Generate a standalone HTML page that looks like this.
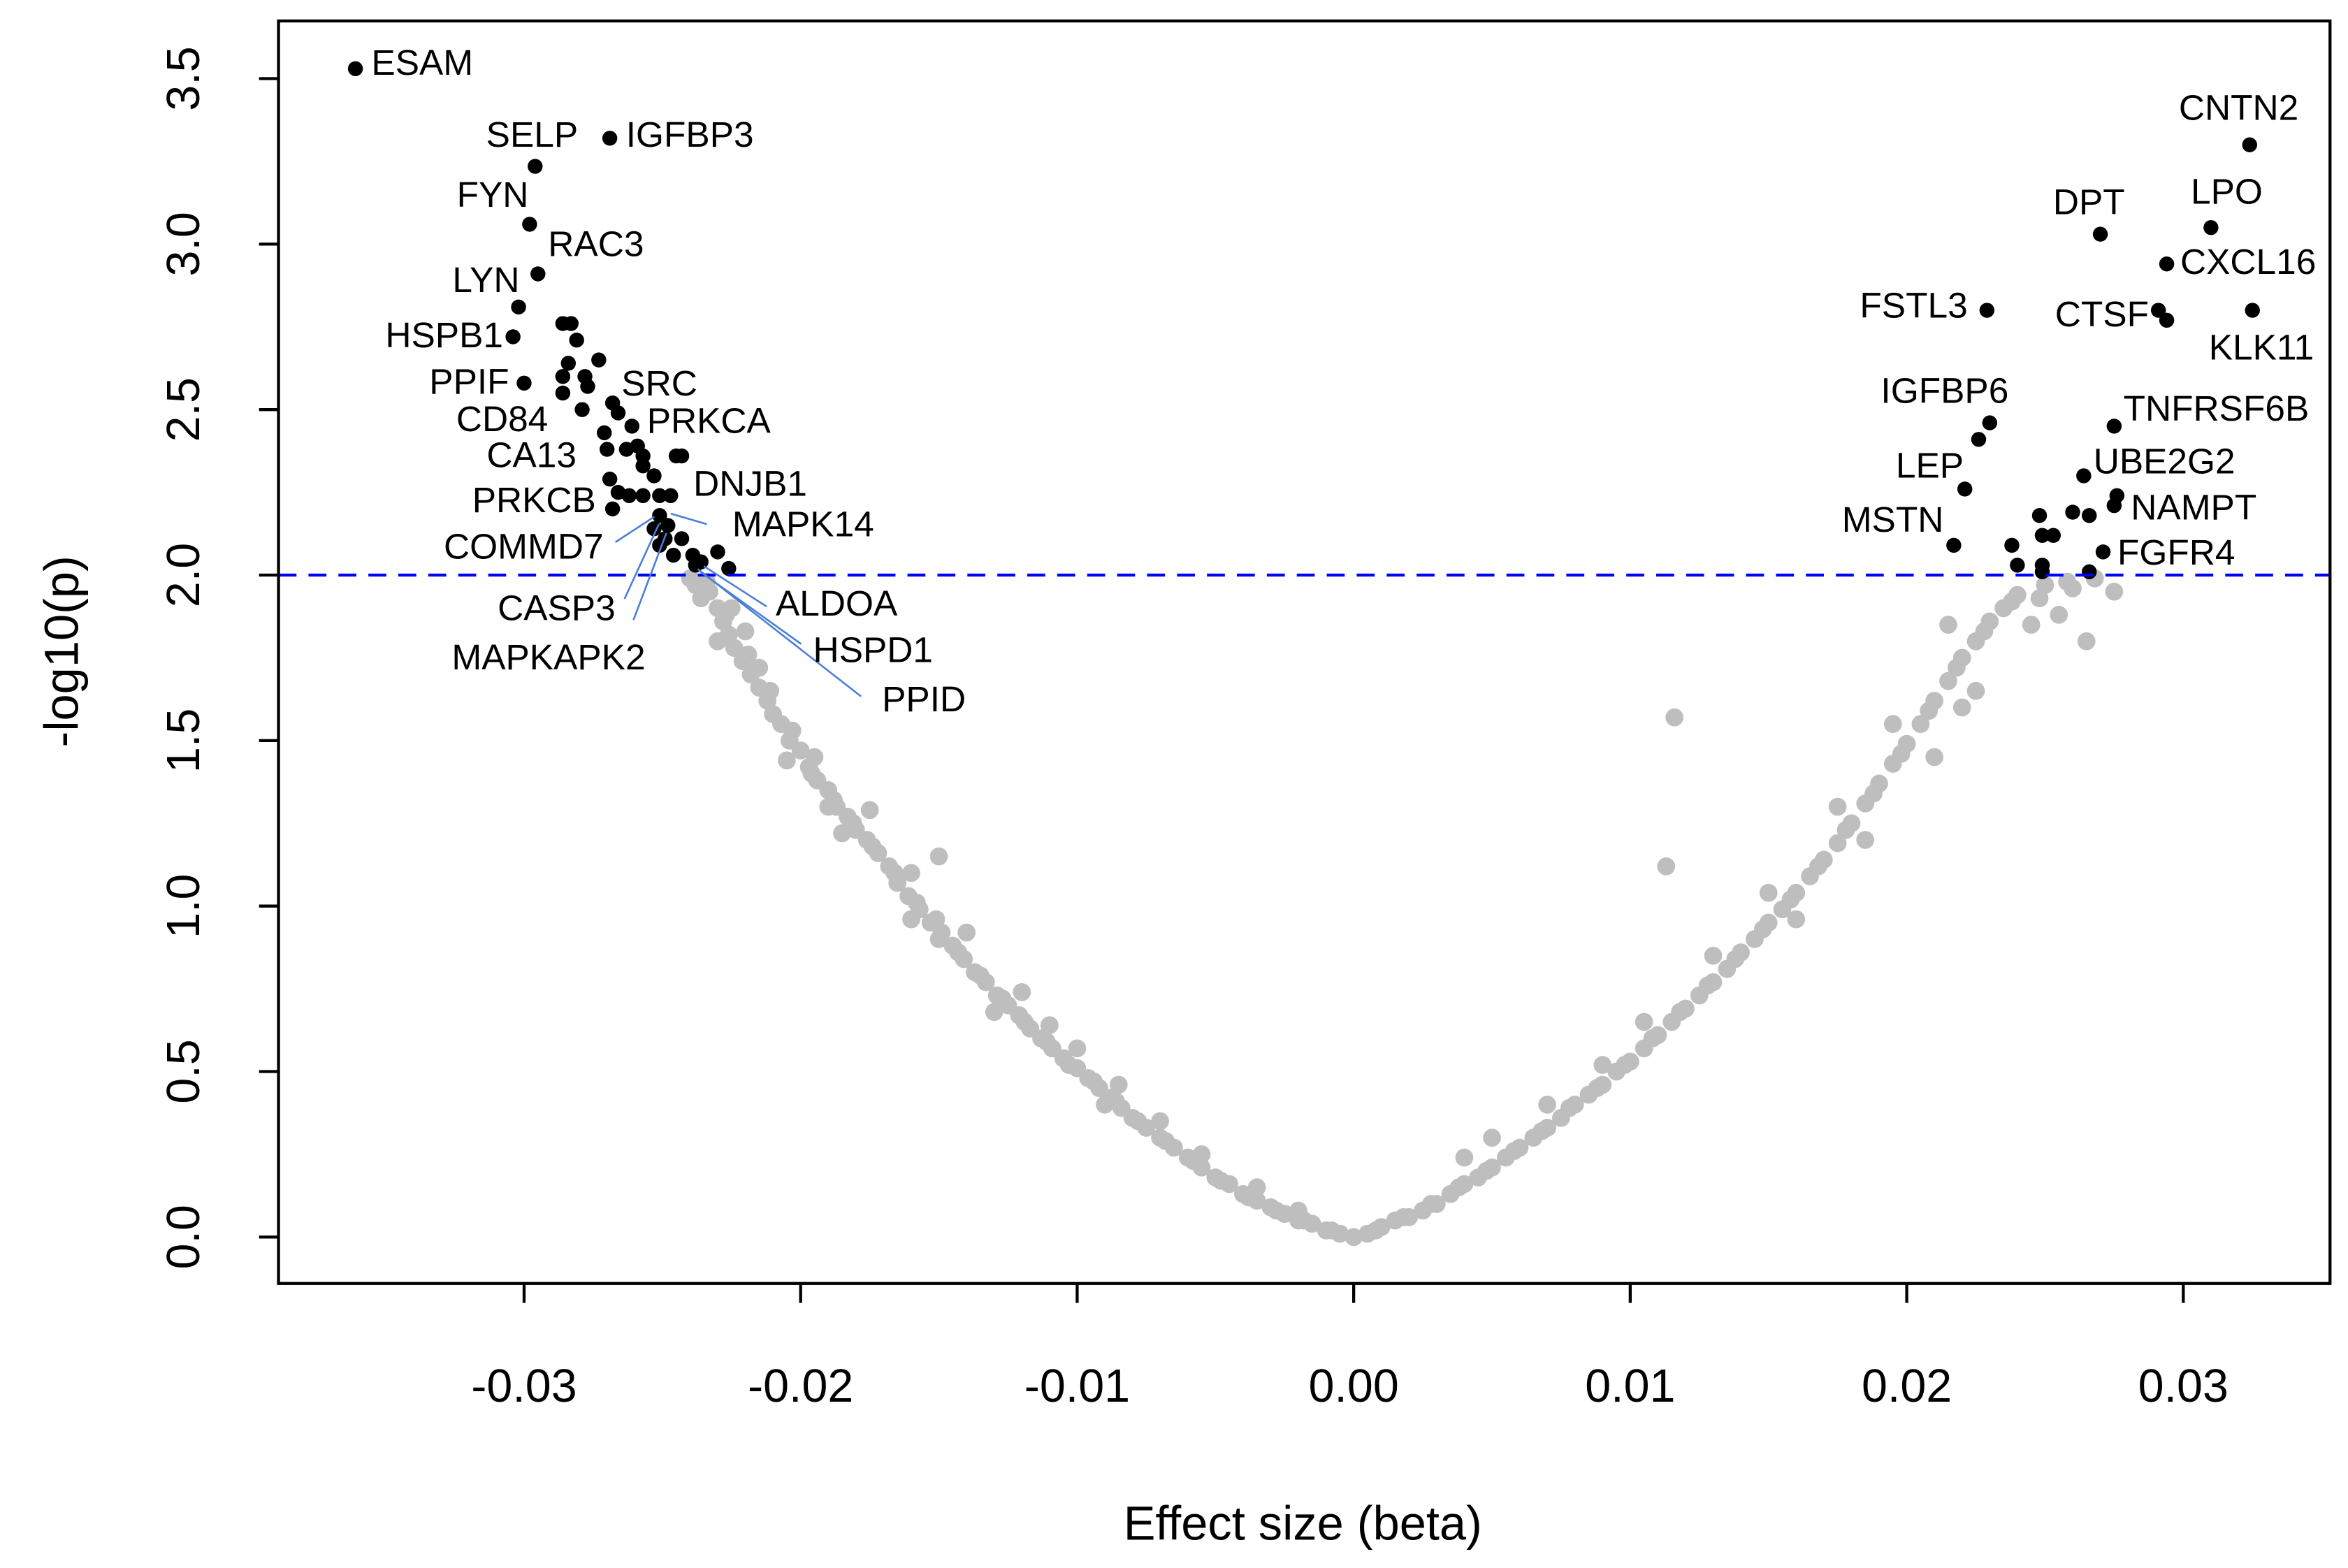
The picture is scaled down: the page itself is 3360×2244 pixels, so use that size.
<!DOCTYPE html>
<html><head><meta charset="utf-8"><style>
html,body{margin:0;padding:0;background:#fff;width:3360px;height:2244px;overflow:hidden}
svg{display:block}
text{font-family:"Liberation Sans",Arial,sans-serif}
</style></head><body>
<svg id="chart" width="3360" height="2244" viewBox="0 0 1568 1047" preserveAspectRatio="none" xmlns="http://www.w3.org/2000/svg">
<g id="grey"></g>
<g id="black"></g>
<line id="thr" x1="186" x2="1556" stroke="#0000ff" stroke-width="2" stroke-dasharray="12,8"/>
<rect x="186" y="14" width="1370" height="843" fill="none" stroke="#000" stroke-width="2"/>
<g id="axes"></g>
<g stroke="#4a7ed8" stroke-width="1.2">
<line x1="411" y1="362" x2="437" y2="345"/>
<line x1="417" y1="400" x2="440" y2="350"/>
<line x1="423" y1="414" x2="445" y2="356"/>
<line x1="472" y1="350" x2="448" y2="343"/>
<line x1="512" y1="405" x2="470" y2="378"/>
<line x1="535" y1="430" x2="468" y2="382"/>
<line x1="575" y1="465" x2="466" y2="380"/>
</g>
<g font-size="24" fill="#000">
<text x="248" y="50">ESAM</text>
<text x="386" y="98" text-anchor="end">SELP</text>
<text x="418" y="98">IGFBP3</text>
<text x="353" y="138" text-anchor="end">FYN</text>
<text x="366" y="171">RAC3</text>
<text x="347" y="195" text-anchor="end">LYN</text>
<text x="336" y="232" text-anchor="end">HSPB1</text>
<text x="340" y="263" text-anchor="end">PPIF</text>
<text x="415" y="264">SRC</text>
<text x="366" y="288" text-anchor="end">CD84</text>
<text x="432" y="289">PRKCA</text>
<text x="385" y="312" text-anchor="end">CA13</text>
<text x="463" y="331">DNJB1</text>
<text x="398" y="342" text-anchor="end">PRKCB</text>
<text x="489" y="358">MAPK14</text>
<text x="403" y="373" text-anchor="end">COMMD7</text>
<text x="518" y="411">ALDOA</text>
<text x="411" y="414" text-anchor="end">CASP3</text>
<text x="543" y="442">HSPD1</text>
<text x="431" y="447" text-anchor="end">MAPKAPK2</text>
<text x="589" y="475">PPID</text>
<text x="1455" y="80">CNTN2</text>
<text x="1371" y="143">DPT</text>
<text x="1463" y="136">LPO</text>
<text x="1456" y="183">CXCL16</text>
<text x="1314" y="212" text-anchor="end">FSTL3</text>
<text x="1435" y="218" text-anchor="end">CTSF</text>
<text x="1475" y="240">KLK11</text>
<text x="1256" y="269">IGFBP6</text>
<text x="1418" y="281">TNFRSF6B</text>
<text x="1266" y="319">LEP</text>
<text x="1398" y="316">UBE2G2</text>
<text x="1230" y="355">MSTN</text>
<text x="1423" y="347">NAMPT</text>
<text x="1414" y="377">FGFR4</text>
</g>
<text x="870" y="1028" font-size="32" text-anchor="middle">Effect size (beta)</text>
<text transform="translate(52,435) rotate(-90)" font-size="32" text-anchor="middle">-log10(p)</text>
</svg>
<script>
const greyBeta = [-0.0238,-0.0236,-0.0233,-0.0230,-0.0228,-0.0226,-0.0224,-0.0221,-0.0218,-0.0215,-0.0212,-0.0210,-0.0207,-0.0204,-0.0200,-0.0197,-0.0194,-0.0190,-0.0187,-0.0183,-0.0180,-0.0176,-0.0172,-0.0168,-0.0165,-0.0161,-0.0157,-0.0153,-0.0149,-0.0145,-0.0141,-0.0137,-0.0133,-0.0129,-0.0125,-0.0121,-0.0117,-0.0113,-0.0109,-0.0105,-0.0100,-0.0096,-0.0092,-0.0088,-0.0084,-0.0080,-0.0075,-0.0070,-0.0065,-0.0060,-0.0055,-0.0050,-0.0045,-0.0040,-0.0035,-0.0030,-0.0025,-0.0020,-0.0015,-0.0010,-0.0005,0,
-0.0230,-0.0220,-0.0215,-0.0205,-0.0195,-0.0185,-0.0175,-0.0160,-0.0150,-0.0150,-0.0140,-0.0130,-0.0120,-0.0110,-0.0100,-0.0090,-0.0085,-0.0070,-0.0055,-0.0035,-0.0020,-0.0160,-0.0190,-0.0240,-0.0225,
-0.0234,-0.0227,-0.0219,-0.0211,-0.0203,-0.0196,-0.0188,-0.0181,-0.0174,-0.0166,-0.0158,-0.0151,-0.0143,-0.0135,-0.0127,-0.0119,-0.0111,-0.0103,-0.0094,-0.0086,-0.0078,-0.0068,-0.0058,-0.0048,-0.0038,-0.0028,-0.0018,-0.0008,
0.0005,0.0010,0.0015,0.0020,0.0025,0.0030,0.0035,0.0040,0.0045,0.0050,0.0055,0.0060,0.0065,0.0070,0.0075,0.0080,0.0085,0.0090,0.0095,0.0100,0.0105,0.0110,0.0115,0.0120,0.0125,0.0130,0.0135,0.0140,0.0145,0.0150,0.0155,0.0160,0.0165,0.0170,0.0175,0.0180,0.0185,0.0190,0.0195,0.0200,0.0205,0.0210,0.0215,0.0220,0.0225,0.0230,0.0235,0.0240,0.0250,0.0260,0.0268,
0.0116,0.0113,0.0090,0.0105,0.0130,0.0150,0.0160,0.0175,0.0185,0.0195,0.0210,0.0225,0.0245,0.0255,0.0265,0.0275,0.0070,0.0050,0.0040,0.0215,0.0220,
0.0008,0.0018,0.0028,0.0038,0.0048,0.0058,0.0068,0.0078,0.0088,0.0098,0.0108,0.0118,0.0128,0.0138,0.0148,0.0158,0.0168,0.0178,0.0188,0.0198,0.0208,0.0218,0.0228,0.0238,0.0248,0.0258];
const greyP = [1.97,1.93,1.95,1.90,1.86,1.82,1.78,1.74,1.70,1.66,1.62,1.58,1.55,1.50,1.47,1.42,1.38,1.35,1.30,1.27,1.23,1.20,1.16,1.12,1.07,1.03,0.99,0.95,0.92,0.88,0.84,0.80,0.77,0.73,0.70,0.67,0.63,0.60,0.57,0.54,0.51,0.48,0.45,0.42,0.39,0.36,0.33,0.30,0.27,0.24,0.21,0.18,0.16,0.13,0.11,0.09,0.07,0.05,0.04,0.02,0.01,0.0,
1.80,1.83,1.72,1.44,1.45,1.22,1.29,1.10,1.15,0.90,0.92,0.68,0.74,0.64,0.57,0.40,0.46,0.35,0.25,0.15,0.08,0.96,1.30,1.99,1.90,
1.98,1.88,1.76,1.65,1.53,1.40,1.32,1.25,1.18,1.10,1.01,0.96,0.86,0.79,0.72,0.65,0.59,0.52,0.47,0.41,0.35,0.29,0.23,0.17,0.12,0.08,0.05,0.02,
0.01,0.03,0.05,0.06,0.08,0.10,0.13,0.16,0.18,0.21,0.24,0.27,0.30,0.33,0.36,0.40,0.43,0.46,0.50,0.53,0.57,0.61,0.65,0.69,0.73,0.77,0.81,0.86,0.90,0.95,0.99,1.04,1.09,1.14,1.19,1.25,1.31,1.37,1.43,1.49,1.55,1.62,1.68,1.75,1.80,1.86,1.90,1.94,1.97,1.96,1.99,
1.57,1.12,0.52,0.65,0.85,1.04,0.96,1.30,1.20,1.55,1.45,1.65,1.85,1.88,1.80,1.95,0.40,0.30,0.24,1.85,1.60,
0.02,0.06,0.10,0.15,0.20,0.26,0.32,0.39,0.45,0.52,0.60,0.68,0.76,0.84,0.93,1.02,1.12,1.23,1.34,1.46,1.59,1.72,1.83,1.92,1.93,1.98];
const sigBeta = [-0.0361,-0.0296,-0.0269,-0.0298,-0.0295,-0.0302,-0.0304,-0.0300,0.0324,0.0270,0.0310,0.0294,0.0291,0.0294,0.0325,0.0229,0.0230,0.0226,0.0221,0.0217,0.0275,0.0264,0.0276,0.0275,0.0271,
-0.0286,-0.0283,-0.0281,-0.0284,-0.0278,-0.0273,-0.0286,-0.0277,-0.0286,-0.0279,-0.0268,-0.0266,-0.0261,-0.0271,-0.0270,-0.0263,-0.0259,-0.0257,-0.0245,-0.0243,-0.0269,-0.0257,-0.0253,-0.0251,-0.0266,-0.0262,-0.0257,-0.0247,-0.0268,-0.0251,-0.0248,-0.0253,-0.0249,-0.0243,-0.0251,-0.0246,-0.0239,-0.0236,-0.0230,-0.0226,-0.0238,
0.0238,0.0240,0.0248,0.0249,0.0253,0.0249,0.0249,0.0260,0.0266,0.0266];
const sigP = [3.53,3.235,3.32,3.06,2.91,2.81,2.72,2.58,3.30,3.03,3.05,2.94,2.80,2.77,2.80,2.80,2.46,2.41,2.26,2.09,2.45,2.30,2.24,2.21,2.07,
2.76,2.76,2.71,2.64,2.60,2.65,2.60,2.57,2.55,2.50,2.52,2.49,2.45,2.43,2.38,2.38,2.39,2.36,2.36,2.36,2.29,2.33,2.30,2.24,2.25,2.24,2.24,2.24,2.20,2.18,2.15,2.14,2.11,2.11,2.09,2.06,2.06,2.04,2.07,2.02,2.03,
2.09,2.03,2.18,2.12,2.12,2.03,2.01,2.19,2.18,2.01];
const xTicks = [-0.03,-0.02,-0.01,0.00,0.01,0.02,0.03];
const xTickLabels = ["-0.03","-0.02","-0.01","0.00","0.01","0.02","0.03"];
const yTicks = [0,0.5,1,1.5,2,2.5,3,3.5];
const yTickLabels = ["0.0","0.5","1.0","1.5","2.0","2.5","3.0","3.5"];
const threshold = 2;

const NS = "http://www.w3.org/2000/svg";
const xS = v => 904 + v * 18467;
const yS = v => 826 - v * 221;
function mk(tag, attrs, parent){const e=document.createElementNS(NS,tag);for(const k in attrs)e.setAttribute(k,attrs[k]);parent.appendChild(e);return e;}
const g1=document.getElementById('grey');
greyBeta.forEach((b,i)=>{
  const c=mk('circle',{cx:xS(b),cy:yS(greyP[i]),r:6,fill:'#bebebe'},g1);
  
  
});
const g2=document.getElementById('black');
sigBeta.forEach((b,i)=>{
  const c=mk('circle',{cx:xS(b),cy:yS(sigP[i]),r:5,fill:'#000'},g2);
  
  
});
const thr=document.getElementById('thr');
thr.setAttribute('y1',yS(threshold));thr.setAttribute('y2',yS(threshold));
const ax=document.getElementById('axes');
xTicks.forEach((v,i)=>{
  const l=mk('line',{x1:xS(v),x2:xS(v),y1:857,y2:870,stroke:'#000','stroke-width':2},ax);
  
  
  const t=mk('text',{x:xS(v),y:936,'font-size':31,'text-anchor':'middle'},ax);
  t.textContent=xTickLabels[i];
  
  
});
yTicks.forEach((v,i)=>{
  const l=mk('line',{x1:173,x2:186,y1:yS(v),y2:yS(v),stroke:'#000','stroke-width':2},ax);
  
  
  const t=mk('text',{transform:`translate(133,${yS(v)}) rotate(-90)`,'font-size':31,'text-anchor':'middle'},ax);
  t.textContent=yTickLabels[i];
  
  
});
</script>
</body></html>
